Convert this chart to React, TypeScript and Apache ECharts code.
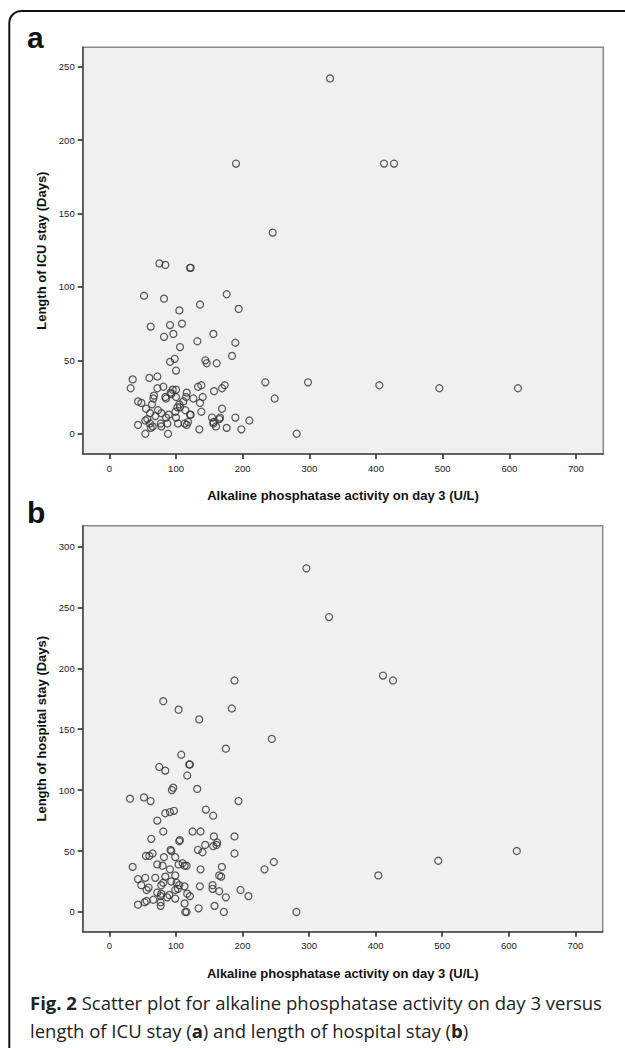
import React, { useEffect, useRef } from "react";
import * as echarts from "echarts";

// Panel a: ALP on day 3 (U/L) vs length of ICU stay (days)
const icuAlp = [
  331, 190, 412, 427, 245, 75, 84, 121, 122, 52, 82, 176, 136,
  105, 194, 62, 91, 109, 82, 96, 156, 132, 189, 106, 184, 91, 98, 144, 146, 161, 100,
  35, 32, 60, 72, 234, 298, 405, 495, 613, 248, 281,
  81, 72, 95, 100, 92, 93, 84, 85, 67, 66, 43, 48, 64, 55, 73, 61, 78, 69, 89,
  100, 105, 106, 111, 116, 115, 126, 99, 114, 121, 102,
  133, 138, 140, 136, 138, 157, 169, 173, 169,
  154, 156, 156, 160, 165, 166, 189, 210, 198, 176, 135,
  88, 54, 43, 54, 57, 61, 62, 65, 77, 78, 87, 103, 113, 116, 118, 100, 122, 85,
];
const icuDays = [
  242, 184, 184, 184, 137, 116, 115, 113, 113, 94, 92, 95, 88,
  84, 85, 73, 74, 75, 66, 68, 68, 63, 62, 59, 53, 49, 51, 50, 48, 48, 43,
  37, 31, 38, 39, 35, 35, 33, 31, 31, 24, 0,
  32, 31, 30, 30, 28, 27, 25, 24, 26, 24, 22, 21, 20, 17, 16, 14, 14, 12, 13,
  25, 20, 18, 22, 28, 25, 24, 15, 16, 13, 18,
  32, 33, 25, 21, 15, 29, 31, 33, 17,
  11, 8, 7, 5, 10, 11, 11, 9, 3, 4, 3,
  0, 0, 6, 9, 10, 7, 4, 5, 7, 5, 7, 7, 7, 6, 8, 11, 13, 11,
];

// Panel b: ALP on day 3 (U/L) vs length of hospital stay (days)
const hospAlp = [
  296, 330, 188, 411, 426, 81, 104, 184, 135, 244, 175, 108, 75, 84, 120, 121, 117, 132, 94, 96,
  31, 52, 62, 194, 145, 156, 84, 91, 97, 72, 81, 125, 137, 63, 157, 188, 105, 106,
  92, 93, 133, 140, 144, 156, 162, 161, 188, 65, 60, 55, 82, 99, 72, 35, 80, 104, 110, 113, 116,
  91, 137, 169, 233, 247, 404, 494, 612,
  43, 54, 69, 84, 99, 93, 101, 105, 81, 78, 48, 59, 56, 103, 99, 113, 136, 155, 155, 165, 168,
  165, 175, 197, 209, 72, 78, 77, 87, 99, 90, 117, 121,
  43, 53, 56, 66, 77, 77, 113, 134, 158, 114, 116, 172, 281,
];
const hospDays = [
  282, 242, 190, 194, 190, 173, 166, 167, 158, 142, 134, 129, 119, 116, 121, 121, 112, 101, 100, 102,
  93, 94, 91, 91, 84, 79, 81, 82, 83, 75, 66, 66, 66, 60, 62, 62, 58, 59,
  51, 50, 51, 49, 55, 54, 57, 55, 48, 48, 46, 46, 45, 45, 39, 37, 38, 39, 40, 38, 38,
  35, 35, 37, 35, 41, 30, 42, 50,
  27, 28, 28, 29, 30, 25, 24, 22, 24, 22, 22, 20, 18, 19, 18, 21, 21, 22, 19, 30, 29,
  17, 12, 18, 13, 16, 15, 13, 12, 11, 14, 15, 13,
  6, 8, 9, 10, 8, 5, 7, 3, 5, 0, 0, 0, 0,
];

const xTicks = [0, 100, 200, 300, 400, 500, 600, 700];
const icuTicks = [0, 50, 100, 150, 200, 250];
const hospTicks = [0, 50, 100, 150, 200, 250, 300];

const xTitle = "Alkaline phosphatase activity on day 3 (U/L)";
const icuTitle = "Length of ICU stay (Days)";
const hospTitle = "Length of hospital stay (Days)";

const LABEL_FONT = "'Liberation Sans', Arial, sans-serif";
const CAPTION_FONT = "'Open Sans', sans-serif";

function xAxisFor(gridIndex: number) {
  return {
    type: "value",
    gridIndex,
    min: -40,
    max: 741,
    axisLine: { show: true, onZero: false, lineStyle: { color: "#4a4a4a", width: 1.5 } },
    axisTick: { show: true, inside: false, length: 5, customValues: xTicks, lineStyle: { color: "#222", width: 1.5 } },
    axisLabel: { customValues: xTicks, fontSize: 9.5, color: "#222", margin: 9, fontFamily: LABEL_FONT },
    splitLine: { show: false },
    name: xTitle,
    nameLocation: "middle",
    nameGap: 35,
    nameTextStyle: { fontSize: 13, fontWeight: "bold", color: "#111", fontFamily: LABEL_FONT },
  };
}

function yAxisFor(gridIndex: number, min: number, max: number, ticks: number[], name: string) {
  return {
    type: "value",
    gridIndex,
    min,
    max,
    axisLine: { show: true, onZero: false, lineStyle: { color: "#4a4a4a", width: 1.5 } },
    axisTick: { show: true, inside: false, length: 5, customValues: ticks, lineStyle: { color: "#222", width: 1.5 } },
    axisLabel: { customValues: ticks, fontSize: 9.5, color: "#222", margin: 8, fontFamily: LABEL_FONT },
    splitLine: { show: false },
    name,
    nameLocation: "middle",
    nameGap: 29,
    nameTextStyle: { fontSize: 13, fontWeight: "bold", color: "#111", fontFamily: LABEL_FONT },
  };
}

const markerStyle = {
  color: "rgba(0,0,0,0)",
  borderColor: "#333",
  borderWidth: 1.25,
};

export default function App() {
  const ref = useRef<HTMLDivElement>(null);

  useEffect(() => {
    if (!ref.current) return;
    const chart = echarts.init(ref.current, null, { renderer: "svg" });
    chart.setOption({
      animation: false,
      backgroundColor: "#ffffff",
      grid: [
        {
          left: 82.7, top: 47.3, width: 520.6, height: 406.7,
          show: true, backgroundColor: "#f0f0f0", borderColor: "#8a8a8a", borderWidth: 1.5,
          containLabel: false,
        },
        {
          left: 82.7, top: 525.7, width: 520, height: 406,
          show: true, backgroundColor: "#f0f0f0", borderColor: "#8a8a8a", borderWidth: 1.5,
          containLabel: false,
        },
      ],
      xAxis: [xAxisFor(0), xAxisFor(1)],
      yAxis: [
        yAxisFor(0, -13.8, 263.2, icuTicks, icuTitle),
        yAxisFor(1, -16.2, 317, hospTicks, hospTitle),
      ],
      series: [
        {
          type: "scatter",
          xAxisIndex: 0,
          yAxisIndex: 0,
          symbol: "circle",
          symbolSize: 7,
          itemStyle: markerStyle,
          data: icuAlp.map((v, i) => [v, icuDays[i]]),
        },
        {
          type: "scatter",
          xAxisIndex: 1,
          yAxisIndex: 1,
          symbol: "circle",
          symbolSize: 7,
          itemStyle: markerStyle,
          data: hospAlp.map((v, i) => [v, hospDays[i]]),
        },
      ],
      graphic: [
        {
          type: "rect",
          shape: { x: 9.3, y: 11, width: 660, height: 1080, r: 12 },
          style: { fill: "none", stroke: "#111", lineWidth: 2 },
          silent: true,
        },
        {
          type: "text",
          x: 27,
          y: 22,
          style: { text: "a", fontSize: 30, fontWeight: "bold", fontFamily: LABEL_FONT, fill: "#111" },
        },
        {
          type: "text",
          x: 27,
          y: 497,
          style: { text: "b", fontSize: 30, fontWeight: "bold", fontFamily: LABEL_FONT, fill: "#111" },
        },
        {
          type: "text",
          x: 30,
          y: 988,
          style: {
            text:
              "{b|Fig. 2} Scatter plot for alkaline phosphatase activity on day 3 versus\nlength of ICU stay ({b|a}) and length of hospital stay ({b|b})",
            fontSize: 18.5,
            fontFamily: CAPTION_FONT,
            fill: "#222",
            lineHeight: 28,
            rich: {
              b: { fontWeight: "bold", fontSize: 18.5, fontFamily: CAPTION_FONT, fill: "#222", lineHeight: 28 },
            },
          },
        },
      ],
    });
    return () => chart.dispose();
  }, []);

  return (
    <div
      ref={ref}
      style={{ position: "absolute", left: 0, top: 0, width: 625, height: 1048, background: "#fff" }}
    />
  );
}
